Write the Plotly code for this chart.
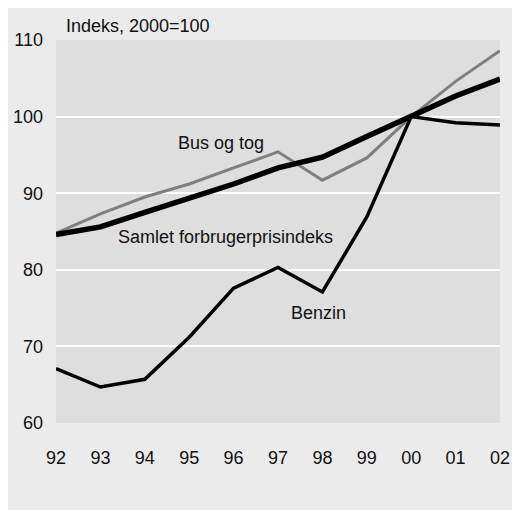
import plotly.graph_objects as go

years = [1992, 1993, 1994, 1995, 1996, 1997, 1998, 1999, 2000, 2001, 2002]
year_labels = ["92", "93", "94", "95", "96", "97", "98", "99", "00", "01", "02"]
cpi = [84.6, 85.6, 87.5, 89.3, 91.2, 93.3, 94.7, 97.4, 100.0, 102.7, 104.9]
bus_tog = [84.8, 87.3, 89.5, 91.2, 93.3, 95.4, 91.7, 94.6, 100.0, 104.6, 108.6]
benzin = [67.1, 64.7, 65.7, 71.2, 77.6, 80.3, 77.1, 86.9, 100.0, 99.2, 98.9]
y_ticks = [60, 70, 80, 90, 100, 110]

FONT = "Liberation Sans, Arial, sans-serif"
FS = 18
TXT = "#111111"

fig = go.Figure()
fig.add_trace(go.Scatter(x=years, y=bus_tog, mode="lines",
                         line=dict(color="#7f7f7f", width=3), name="Bus og tog"))
fig.add_trace(go.Scatter(x=years, y=benzin, mode="lines",
                         line=dict(color="#000000", width=3.5), name="Benzin"))
fig.add_trace(go.Scatter(x=years, y=cpi, mode="lines",
                         line=dict(color="#000000", width=5.5), name="Samlet forbrugerprisindeks"))

W, H = 520, 510
ml, mr, mt, mb = 48, 28, 32, 95
pw, ph = W - ml - mr, H - mt - mb

def px(x):
    return (x - ml) / pw

def py(y):
    return (H - mb - y) / ph

fig.add_annotation(text="Indeks, 2000=100", xref="paper", yref="paper",
                   x=px(56), y=py(18), xanchor="left", yanchor="middle",
                   showarrow=False, font=dict(size=FS, color=TXT, family=FONT))
fig.add_annotation(text="Bus og tog", x=1995.72, y=96.55, showarrow=False,
                   font=dict(size=FS, color=TXT, family=FONT))
fig.add_annotation(text="Samlet forbrugerprisindeks", x=1995.82, y=84.3, showarrow=False,
                   font=dict(size=FS, color=TXT, family=FONT))
fig.add_annotation(text="Benzin", x=1997.92, y=74.35, showarrow=False,
                   font=dict(size=FS, color=TXT, family=FONT))

fig.update_layout(
    width=W, height=H,
    margin=dict(l=ml, r=mr, t=mt, b=mb, autoexpand=False),
    paper_bgcolor="#ebebeb", plot_bgcolor="#dedede",
    showlegend=False,
    font=dict(family=FONT, size=FS, color=TXT),
    xaxis=dict(range=[1992, 2002], tickmode="array", tickvals=years, ticktext=year_labels,
               showgrid=False, zeroline=False, showline=False, ticks="", automargin=False,
               ticklabelstandoff=22, tickfont=dict(size=FS, color=TXT)),
    yaxis=dict(range=[60, 110], tickmode="array", tickvals=y_ticks,
               showgrid=True, gridcolor="white", gridwidth=2, zeroline=False, automargin=False,
               showline=False, ticks="", ticklabelstandoff=12, tickfont=dict(size=FS, color=TXT)),
)

fig.write_html("out.html")
